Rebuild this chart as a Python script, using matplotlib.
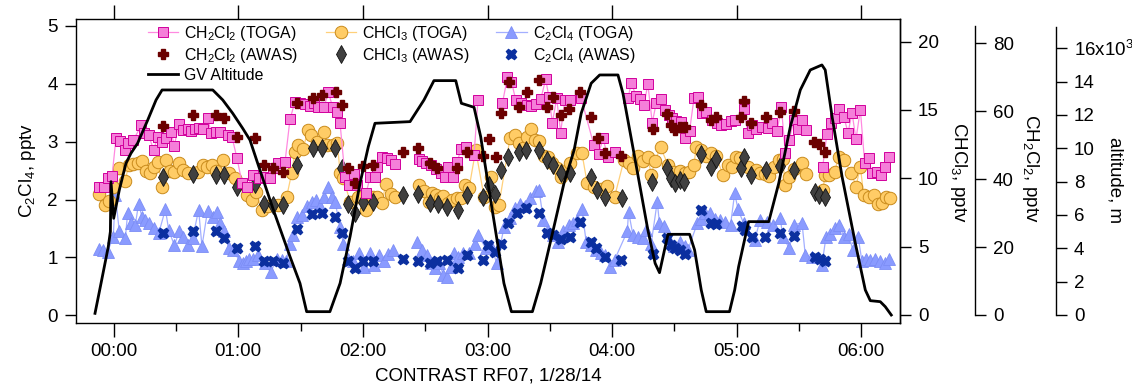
import numpy as np
import matplotlib.pyplot as plt
from matplotlib.ticker import FuncFormatter, MultipleLocator

plt.rcParams['font.family'] = ['Liberation Sans', 'DejaVu Sans']
plt.rcParams['mathtext.default'] = 'regular'

# times are minutes after 00:00 UTC, 1/28/14
# ---- CH2Cl2, pptv ----
ch2cl2_toga_t = [-7.2, -4.5, -2.9, -0.8, 1.1, 3.2, 5.4, 7.0, 9.5, 13.3, 14.8, 16.8, 19.2, 21.2, 23.3, 25.2, 27.6, 29.2, 31.4, 33.4,
                 35.6, 37.2, 39.1, 40.9, 43.2, 45.2, 46.9, 49.3, 51.3, 54.9, 57.0, 59.4, 61.8,
                 64.0, 67.2, 70.1, 72.8, 75.3, 76.9, 79.3, 82.5, 84.9, 87.3, 89.7, 92.1, 94.5, 96.4, 98.5, 101.3, 103.3, 105.4, 107.4, 109.0,
                 111.4, 113.5, 115.7, 117.3, 121.5, 123.4, 125.8, 126.9, 129.0, 131.4, 133.4, 135.4,
                 147.0, 148.6, 150.2, 152.6, 155.0, 157.5, 159.4, 161.1, 163.4, 165.2, 167.4, 169.5, 173.5, 175.4, 187.2, 189.6, 191.5, 193.6, 196.0, 198.9,
                 201.1, 203.2, 205.6, 208.0, 209.6, 211.2, 213.3, 215.2, 217.2, 219.7,
                 225.1, 231.2, 233.5, 235.6, 238.0, 241.2, 247.6, 249.2, 251.6, 253.2, 255.3, 257.2, 259.3, 261.2, 263.6, 265.6, 267.2, 268.8, 270.9, 273.3,
                 275.2, 277.3, 279.4, 281.3, 283.2, 285.3, 288.0, 290.5, 292.5, 295.0, 297.0, 299.3,
                 303.3, 305.4, 307.3, 309.3, 312.1, 315.0, 317.0, 319.4, 321.5, 323.4, 325.3, 327.4, 329.5, 331.4, 333.3, 341.4, 343.4, 345.4, 347.5, 349.4,
                 351.5, 353.6, 355.5, 357.4, 359.5, 361.6, 363.5, 365.1, 367.5, 369.6, 371.5, 373.5]
ch2cl2_toga = [37.6, 37.8, 40.2, 40.9, 52.0, 51.3, 48.6, 50.5, 51.5, 55.9, 53.5, 53.0, 48.6, 52.3, 51.0, 52.0, 54.0, 49.9, 56.2, 54.5,
               54.7, 54.3, 54.8, 55.0, 54.8, 58.1, 53.7, 54.0, 53.8, 53.0, 52.3, 46.1, 38.8,
               37.6, 41.2, 40.2, 40.7, 40.2, 43.2, 44.8, 45.1, 57.7, 62.8, 62.5, 62.1, 61.5, 62.3, 61.3, 61.1, 65.7, 61.3, 59.9, 56.4,
               40.7, 38.3, 41.5, 38.3, 35.8, 40.5, 40.7, 43.7, 46.4, 46.1, 45.6, 44.5,
               45.8, 45.3, 44.7, 44.2, 42.9, 41.9, 40.5, 43.7, 40.5, 45.1, 48.8, 49.4, 47.1, 63.3, 62.5, 70.0, 68.7, 63.3, 62.3, 61.8,
               61.5, 62.1, 63.5, 69.4, 64.1, 56.6, 63.8, 53.7, 63.3, 63.3,
               63.8, 50.0, 47.4, 52.0, 46.4, 48.1, 63.8, 68.2, 64.5, 63.5, 61.8, 68.0, 56.6, 62.3, 63.5, 60.4, 58.9, 57.9, 57.2, 56.9,
               52.0, 54.3, 63.8, 64.3, 59.6, 59.9, 57.4, 56.6, 55.9, 56.2, 57.1, 57.4,
               60.8, 53.7, 55.9, 54.7, 55.3, 55.0, 56.6, 54.3, 61.1, 47.6, 51.5, 57.4, 54.7, 57.4, 54.5, 43.7, 53.3, 56.6, 58.1, 60.6,
               58.4, 53.7, 59.6, 51.7, 60.5, 44.7, 46.1, 41.9, 42.2, 41.2, 43.7, 46.6]

ch2cl2_awas_t = [23.6, 38.3, 49.3, 53.3, 59.2, 68.0, 72.4, 76.9, 81.7, 88.4, 96.1, 100.1, 107.0, 109.8, 113.0, 116.2, 119.9, 124.7, 139.5, 146.5,
                 152.3, 155.9, 165.5, 170.3, 178.0, 180.7, 183.9, 186.3, 190.4, 195.2, 198.9, 204.8, 208.5, 211.7, 215.2, 219.2, 224.3, 229.6, 233.1, 236.4,
                 244.4, 259.6, 266.5, 268.1, 270.4, 272.5, 274.9, 282.6, 287.7, 290.1, 302.2, 303.3, 307.0, 314.1, 321.0, 327.4, 337.0, 339.8, 342.3]
ch2cl2_awas = [55.6, 58.9, 58.9, 58.1, 52.3, 52.0, 44.2, 43.2, 42.2, 62.3, 63.8, 64.8, 65.7, 61.8, 43.2, 38.8, 43.9, 44.2, 48.1, 49.1,
               44.7, 43.2, 43.2, 48.1, 46.8, 51.7, 46.6, 59.6, 68.7, 61.1, 65.8, 69.2, 61.1, 64.3, 58.9, 60.8, 65.7, 58.4, 52.0, 47.6,
               46.8, 54.7, 59.2, 55.9, 54.5, 55.4, 55.3, 61.8, 57.4, 58.4, 58.2, 63.1, 56.6, 58.2, 59.9, 60.2, 51.0, 50.3, 48.1]

# ---- CHCl3, pptv ----
chcl3_toga_t = [-6.9, -4.0, -2.1, -0.2, 2.7, 5.6, 7.2, 9.5, 11.5, 13.6, 15.6, 17.5, 19.6, 21.2, 23.3, 25.2, 27.1, 29.2, 31.6, 33.5,
                35.6, 40.4, 42.8, 44.9, 47.3, 49.3, 52.5, 55.4, 58.6, 61.3,
                64.0, 66.4, 68.5, 71.2, 74.5, 79.3, 83.3, 85.7, 87.3, 88.9, 91.3, 93.4, 94.8, 98.0, 101.3, 102.9, 105.4, 107.7, 109.0, 110.6,
                113.8, 117.8, 121.5, 125.0, 126.9, 129.0, 131.1, 133.4, 135.4,
                147.0, 149.4, 151.8, 153.4, 155.4, 157.1, 158.7, 161.0, 163.1, 165.5, 167.4, 169.0, 171.1, 174.3, 178.3, 181.8, 183.5, 185.5, 190.8, 193.1,
                195.2, 197.3, 198.9, 200.8, 202.7, 204.8, 207.2, 209.3, 211.2, 213.6, 215.6, 217.7, 219.7,
                223.2, 225.4, 228.0, 231.2, 234.8, 237.6, 241.2, 245.7, 247.9, 250.0, 252.4, 254.8, 257.2, 258.8, 260.7, 263.3, 266.9, 269.7, 272.5, 274.9,
                276.8, 279.4, 280.5, 282.9, 285.3, 287.7, 290.1, 293.3, 295.7, 297.7, 299.8,
                301.7, 305.4, 309.3, 311.3, 313.8, 315.7, 317.8, 320.2, 322.1, 323.4, 325.3, 327.4, 331.4, 333.3, 341.4, 342.6, 344.6, 347.1, 349.1, 351.5,
                355.2, 357.4, 359.5, 361.1, 363.5, 365.9, 368.0, 369.9, 371.9, 373.8]
chcl3_toga = [8.85, 8.05, 8.37, 9.39, 10.73, 9.83, 10.98, 11.05, 11.10, 11.29, 10.56, 10.41, 10.80, 11.22, 9.39, 11.34, 10.56, 10.49, 11.10, 10.61,
              10.37, 10.49, 10.98, 10.80, 10.98, 10.56, 11.34, 10.37, 10.00, 9.59,
              8.78, 8.41, 9.02, 7.68, 7.98, 8.05, 8.66, 10.37, 11.95, 12.44, 12.12, 13.54, 13.17, 12.68, 13.41, 12.44, 12.44, 12.61, 10.37, 10.00,
              8.29, 8.66, 7.68, 8.66, 8.66, 8.17, 9.59, 8.85, 8.66,
              9.51, 9.10, 8.29, 8.95, 8.78, 8.54, 8.71, 8.22, 8.41, 8.54, 8.54, 9.51, 9.27, 12.07, 8.66, 10.12, 7.93, 8.05, 12.93, 13.17,
              12.61, 12.20, 13.00, 13.61, 12.80, 12.76, 11.63, 11.54, 11.10, 10.73, 10.12, 10.56, 11.10,
              11.83, 11.88, 9.63, 9.34, 9.20, 9.44, 8.66, 11.34, 11.10, 10.73, 11.63, 11.29, 11.59, 10.24, 11.29, 12.27, 10.98, 10.49, 10.56, 10.37,
              10.49, 10.98, 12.32, 12.07, 11.63, 11.88, 11.63, 10.24, 10.98, 10.85, 11.59,
              11.46, 10.85, 10.61, 10.41, 10.32, 10.17, 10.85, 11.34, 11.39, 9.51, 10.12, 10.66, 11.10, 10.32, 9.15, 10.24, 10.24, 10.49, 11.59, 11.34,
              10.41, 9.39, 10.85, 8.78, 8.66, 8.78, 8.12, 8.22, 8.66, 8.59]

chcl3_awas_t = [23.6, 38.3, 49.3, 53.3, 59.2, 68.0, 72.4, 76.5, 81.7, 88.4, 96.1, 100.1, 106.6, 109.8, 113.0, 116.2, 119.9, 124.7, 139.5, 146.5,
                152.3, 156.2, 160.3, 165.8, 170.3, 178.0, 180.7, 183.5, 186.7, 189.9, 195.2, 198.4, 204.8, 208.8, 211.7, 215.6, 219.7, 229.6, 232.8, 236.4,
                244.7, 259.3, 266.5, 268.5, 270.1, 272.5, 274.6, 282.6, 287.7, 290.1, 302.2, 303.3, 307.0, 314.1, 321.0, 327.4, 337.5, 339.8, 342.3]
chcl3_awas = [10.12, 10.32, 10.24, 10.24, 9.34, 9.59, 8.12, 8.05, 8.05, 10.98, 12.20, 12.20, 12.20, 10.73, 8.12, 7.44, 8.29, 8.29, 8.78, 8.85,
              8.17, 8.12, 7.93, 7.68, 8.78, 8.66, 9.51, 8.85, 10.61, 11.59, 11.95, 12.07, 12.07, 11.34, 10.98, 10.37, 10.37, 10.07, 9.15, 8.66,
              8.54, 9.76, 10.73, 10.00, 9.63, 9.88, 9.76, 11.78, 10.85, 11.39, 10.73, 11.54, 10.24, 10.61, 10.90, 10.61, 9.02, 8.78, 8.61]

# ---- C2Cl4, pptv ----
c2cl4_toga_t = [-7.2, -5.0, -2.9, -0.2, 0.8, 2.7, 5.6, 6.7, 8.3, 10.4, 12.0, 13.6, 15.2, 17.2, 19.6, 21.7, 24.9, 26.5, 29.2, 31.6,
                33.5, 35.6, 38.0, 40.9, 42.5, 45.2, 47.7, 49.6, 51.2, 53.3, 55.4, 57.6, 60.5, 62.4,
                63.7, 65.3, 67.2, 69.6, 72.8, 75.6, 78.5, 80.9, 83.0, 84.9, 86.5, 88.4, 90.5, 92.9, 95.3, 97.4, 99.3, 101.3, 103.3, 105.0,
                106.6, 109.0, 110.6, 113.0, 115.4, 118.3, 120.5, 123.4, 125.3, 127.9, 130.1, 132.2, 134.6,
                146.2, 148.6, 150.7, 152.6, 154.6, 156.7, 158.7, 160.3, 162.3, 163.9, 165.8, 168.4, 171.1, 173.8, 175.4, 179.1, 181.9, 184.4, 188.0, 190.8,
                193.1, 195.7, 197.9, 200.5, 203.2, 204.8, 206.9, 209.1, 211.7, 214.0, 216.5, 219.2,
                221.1, 223.2, 225.4, 227.5, 229.9, 232.3, 234.8, 236.7, 239.2, 241.2,
                247.3, 247.9, 250.0, 252.4, 254.8, 256.4, 258.8, 261.7, 262.8, 265.2, 267.7, 269.7, 272.5, 275.2, 276.5, 281.0, 282.9, 284.8, 286.9, 289.3,
                291.7, 294.1, 297.0, 299.0,
                300.6, 303.3, 308.6, 311.3, 314.6, 317.3, 321.0, 322.1, 325.3, 327.4, 331.4, 333.0, 336.2, 341.0, 343.0, 345.0, 347.5, 349.4, 351.5, 353.9,
                355.8, 358.4, 360.3, 362.2, 364.3, 366.7, 369.1, 371.5, 373.5]
c2cl4_toga = [1.14, 1.13, 1.10, 1.36, 2.08, 1.45, 1.33, 1.76, 1.59, 1.56, 1.93, 1.70, 1.65, 1.59, 1.50, 1.42, 1.83, 1.47, 1.21, 1.45,
              1.35, 1.21, 1.33, 1.82, 1.19, 1.81, 1.70, 1.79, 1.59, 1.45, 1.16, 1.13, 0.94, 0.90,
              0.93, 0.98, 0.98, 1.04, 0.90, 0.74, 0.98, 0.96, 0.93, 1.24, 1.39, 1.70, 1.73, 1.88, 1.96, 1.99, 1.88, 2.05, 2.22, 2.05,
              1.96, 1.53, 1.24, 0.98, 0.93, 1.07, 0.84, 1.07, 0.87, 1.04, 0.93, 1.06, 1.13,
              1.26, 1.13, 1.04, 0.90, 0.81, 0.90, 0.70, 0.67, 0.84, 1.07, 1.01, 1.07, 1.07, 1.24, 1.39, 1.16, 1.19, 0.90, 1.53, 1.68,
              1.85, 1.93, 1.88, 2.02, 2.14, 2.16, 1.65, 1.45, 1.39, 1.27, 1.45, 1.56,
              1.59, 1.65, 1.83, 1.27, 1.21, 1.13, 1.07, 1.04, 0.84, 0.96,
              1.45, 1.79, 1.39, 1.36, 1.33, 1.47, 1.24, 1.96, 1.59, 1.55, 1.27, 1.19, 1.27, 1.19, 1.13, 1.59, 1.67, 1.76, 1.76, 1.67,
              1.65, 1.62, 1.56, 2.11,
              1.83, 1.59, 1.30, 1.65, 1.62, 1.56, 1.68, 1.36, 1.16, 1.56, 1.60, 1.04, 1.01, 0.87, 1.36, 1.41, 1.50, 1.56, 1.36, 1.41,
              1.13, 1.36, 0.93, 0.98, 0.96, 0.98, 0.93, 0.90, 0.98]

c2cl4_awas_t = [23.9, 38.3, 49.3, 53.3, 59.2, 68.0, 72.4, 76.9, 81.7, 88.4, 95.3, 100.1, 106.6, 109.8, 113.0, 116.2, 119.9, 124.7, 139.5, 146.5,
                152.3, 155.9, 160.3, 165.8, 170.3, 178.0, 180.3, 183.5, 186.7, 189.9, 194.4, 198.4, 204.8, 208.8, 211.7, 215.2, 219.7, 224.3, 229.6, 232.3,
                236.4, 244.4, 259.6, 266.5, 268.1, 270.4, 272.5, 274.9, 282.6, 287.7, 290.1, 302.5, 303.8, 307.3, 313.7, 321.0, 327.4, 337.5, 340.2, 342.3]
c2cl4_awas = [1.43, 1.45, 1.45, 1.33, 1.17, 1.20, 0.94, 0.93, 0.91, 1.49, 1.75, 1.76, 1.70, 1.42, 0.94, 0.81, 0.93, 0.93, 0.98, 0.94,
              0.90, 0.94, 0.96, 0.81, 1.04, 0.96, 1.21, 1.10, 1.24, 1.59, 1.76, 1.85, 1.77, 1.42, 1.39, 1.31, 1.36, 1.62, 1.26, 1.17,
              1.01, 0.96, 1.06, 1.33, 1.21, 1.16, 1.13, 1.06, 1.82, 1.60, 1.58, 1.55, 1.48, 1.36, 1.35, 1.43, 1.37, 1.01, 0.98, 0.94]

# ---- GV altitude, m ----
alt_t = [-9.0, -6.1, -2.6, -1.6, -1.3, 0.0, 2.7, 5.9, 8.3, 11.5, 16.4, 20.4, 23.3, 47.7, 52.5, 57.3, 62.1,
         65.6, 70.4, 76.9, 84.9, 89.7, 92.9, 104.1, 109.0, 113.8, 118.6, 122.6, 125.8, 142.7,
         149.4, 154.2, 164.7, 167.4, 173.5, 176.7, 181.5, 187.9, 191.5, 201.6, 205.6, 212.0, 216.8, 221.7,
         225.1, 229.9, 234.0, 242.8, 245.2, 250.8, 257.2, 260.7, 262.8, 265.2, 266.9, 277.3, 279.7, 282.9, 285.3, 296.5, 299.0,
         300.9, 305.7, 315.4, 320.2, 325.8, 330.6, 335.4, 341.0, 342.6, 345.9, 350.7, 357.1, 361.9, 364.3, 369.1, 371.5, 374.4]
alt_m = [100, 1900, 4100, 5000, 8000, 5800, 7500, 9100, 9700, 10300, 11700, 12900, 13500, 13500, 12900, 12100, 11200,
         10500, 8700, 6300, 3500, 1900, 200, 200, 1900, 4700, 7900, 10100, 11500, 11600,
         12900, 14060, 14060, 12700, 12460, 10700, 6900, 1900, 200, 200, 1900, 5300, 7900, 9900,
         12100, 13900, 14400, 14400, 13300, 9500, 5100, 3100, 2540, 3900, 4840, 4840, 3900, 1500, 200, 200, 1500,
         2900, 5600, 5600, 7900, 11300, 13500, 14700, 15000, 14700, 11900, 8300, 4300, 1500, 860, 800, 500, 0]


def with_gaps(t, v, maxgap=6.3):
    # break the connecting line where the sampling has a hole
    t = np.asarray(t, float)
    v = np.asarray(v, float)
    brk = np.where(np.diff(t) > maxgap)[0] + 1
    return np.insert(t, brk, np.nan), np.insert(v, brk, np.nan)


W, H = 1132, 387
fig = plt.figure(figsize=(W / 100, H / 100), dpi=100)
x0, x1, y0, y1 = 76, 900, 19, 322.5
ax = fig.add_axes([x0 / W, 1 - y1 / H, (x1 - x0) / W, (y1 - y0) / H])
ax_cl3 = ax.twinx()
ax_cl2 = ax.twinx()
ax_alt = ax.twinx()

fs = 13.5
lw_ax = 1.0

# C2Cl4 on the left axis
t, v = with_gaps(c2cl4_toga_t, c2cl4_toga)
h_c2t, = ax.plot(t, v, '-^', color='#A3AFFF', lw=0.9, ms=8.5, mfc='#8A9BFF', mec='#7C8DF5', mew=0.6,
                 label='C$_2$Cl$_4$ (TOGA)')
h_c2a, = ax.plot(c2cl4_awas_t, c2cl4_awas, 'X', ls='none', ms=7.5, color='#0B2F9F', mec='#0B2F9F',
                 label='C$_2$Cl$_4$ (AWAS)')

# CHCl3
t, v = with_gaps(chcl3_toga_t, chcl3_toga)
h_c3t, = ax_cl3.plot(t, v, '-o', color='#FFD07A', lw=0.9, ms=9, mfc='#FFCC66', mec='#C98B1C', mew=0.7,
                     label='CHCl$_3$ (TOGA)')
h_c3a, = ax_cl3.plot(chcl3_awas_t, chcl3_awas, 'd', ls='none', ms=9, mfc='#404040', mec='#111111', mew=0.6,
                     label='CHCl$_3$ (AWAS)')

# CH2Cl2
t, v = with_gaps(ch2cl2_toga_t, ch2cl2_toga)
h_c1t, = ax_cl2.plot(t, v, '-s', color='#FF8AE0', lw=0.9, ms=7, mfc='#F57FD9', mec='#D1009C', mew=0.7,
                     label='CH$_2$Cl$_2$ (TOGA)')
h_c1a, = ax_cl2.plot(ch2cl2_awas_t, ch2cl2_awas, 'P', ls='none', ms=7, color='#6B0000', mec='#6B0000',
                     label='CH$_2$Cl$_2$ (AWAS)')

# altitude
h_alt, = ax_alt.plot(alt_t, alt_m, '-', color='black', lw=2.0, label='GV Altitude')

# limits
ax.set_xlim(-18.15, 378.6)
ax.set_ylim(-0.124, 5.117)
ax_cl3.set_ylim(-0.549, 21.65)
ax_cl2.set_ylim(-2.21, 87.16)
ax_alt.set_ylim(-450, 17757)

# x axis
ax.xaxis.set_major_locator(MultipleLocator(60))
ax.xaxis.set_minor_locator(MultipleLocator(30))
ax.xaxis.set_major_formatter(FuncFormatter(lambda v, p: '%02d:%02d' % (int(v // 60), int(v % 60))))
ax.tick_params(axis='x', which='major', direction='out', length=10, width=lw_ax, labelsize=fs, pad=5,
               top=True, labeltop=False)
ax.tick_params(axis='x', which='minor', direction='out', length=6, width=lw_ax, top=False)

# left axis
ax.set_yticks([0, 1, 2, 3, 4, 5])
ax.tick_params(axis='y', direction='out', length=8, width=lw_ax, labelsize=fs, pad=5)
for s in ax.spines.values():
    s.set_linewidth(lw_ax)

for a in (ax_cl3, ax_cl2, ax_alt):
    for side in ('top', 'bottom', 'left'):
        a.spines[side].set_visible(False)
    a.spines['right'].set_linewidth(lw_ax)
    a.tick_params(axis='y', direction='out', length=8, width=lw_ax, labelsize=fs, pad=5)

ax_cl3.set_yticks([0, 5, 10, 15, 20])

ax_cl2.spines['right'].set_position(('axes', (975 - x0) / (x1 - x0)))
ax_cl2.spines['right'].set_bounds(0, 85)
ax_cl2.set_yticks([0, 20, 40, 60, 80])

ax_alt.spines['right'].set_position(('axes', (1056 - x0) / (x1 - x0)))
ax_alt.spines['right'].set_bounds(0, 17300)
ax_alt.set_yticks(np.arange(0, 17000, 2000))
ax_alt.yaxis.set_major_formatter(FuncFormatter(
    lambda v, p: '16x10$^3$' if v == 16000 else '%d' % (v / 1000)))

# axis titles
fig.text(28 / W, 1 - 171 / H, 'C$_2$Cl$_4$, pptv', rotation=90, ha='center', va='center', fontsize=fs)
fig.text(958 / W, 1 - 172 / H, 'CHCl$_3$, pptv', rotation=270, ha='center', va='center', fontsize=fs)
fig.text(1030 / W, 1 - 168 / H, 'CH$_2$Cl$_2$, pptv', rotation=270, ha='center', va='center', fontsize=fs)
fig.text(1115 / W, 1 - 180 / H, 'altitude, m', rotation=270, ha='center', va='center', fontsize=fs)
fig.text(488 / W, 1 - 376 / H, 'CONTRAST RF07, 1/28/14', ha='center', va='center', fontsize=fs)

# legend, filled column by column
handles = [h_c1t, h_c1a, h_alt, h_c3t, h_c3a, h_c2t, h_c2a]
leg = ax_alt.legend(handles=handles, labels=[h.get_label() for h in handles], ncol=3,
                    loc='upper left', bbox_to_anchor=((148 - x0) / (x1 - x0), 0.985),
                    frameon=False, fontsize=11.4, borderaxespad=0, borderpad=0,
                    handlelength=1.9, handletextpad=0.4, columnspacing=1.7, labelspacing=0.2)

fig.savefig('out.png', dpi=100)
